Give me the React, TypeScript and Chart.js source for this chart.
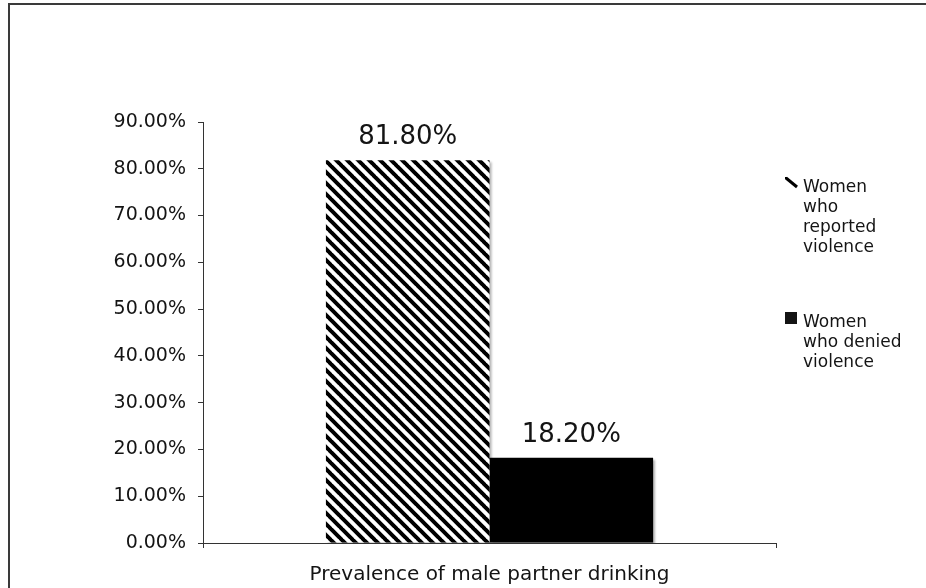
import React, { useEffect, useRef } from "react";
import { Chart, registerables } from "chart.js";

Chart.register(...registerables);

// Chart data
const CATEGORIES = ["Prevalence of male partner drinking"];
const REPORTED_VIOLENCE = [81.8];
const DENIED_VIOLENCE = [18.2];
const Y_MIN = 0;
const Y_MAX = 90;
const Y_STEP = 10;
const LEGEND_REPORTED = ["Women", "who", "reported", "violence"];
const LEGEND_DENIED = ["Women", "who denied", "violence"];

const FONT = "'DejaVu Sans', Verdana, sans-serif";
const TEXT = "#141414";
const AXIS = "#333333";

function makeHatch(ctx: CanvasRenderingContext2D): CanvasPattern | string {
  const p = 11;
  const c = document.createElement("canvas");
  c.width = p;
  c.height = p;
  const g = c.getContext("2d");
  if (!g) return "#000";
  g.fillStyle = "#ffffff";
  g.fillRect(0, 0, p, p);
  g.strokeStyle = "#000000";
  g.lineWidth = 4;
  g.beginPath();
  for (let k = -1; k <= 1; k++) {
    g.moveTo(k * p - 1, -1);
    g.lineTo(k * p + p + 1, p + 1);
  }
  g.stroke();
  return ctx.createPattern(c, "repeat") || "#000";
}

export default function App() {
  const ref = useRef<HTMLCanvasElement | null>(null);

  useEffect(() => {
    const canvas = ref.current;
    if (!canvas) return;
    const ctx = canvas.getContext("2d");
    if (!ctx) return;
    const hatch = makeHatch(ctx);

    const barShadow = {
      id: "barShadow",
      beforeDatasetsDraw(chart: any) {
        const c = chart.ctx;
        c.save();
        c.shadowColor = "rgba(0,0,0,0.3)";
        c.shadowOffsetX = 2;
        c.shadowOffsetY = 2;
        c.shadowBlur = 2;
      },
      afterDatasetsDraw(chart: any) {
        chart.ctx.restore();
      },
    };

    const valueLabels = {
      id: "valueLabels",
      afterDraw(chart: any) {
        const c = chart.ctx;
        c.save();
        c.font = `26px ${FONT}`;
        c.fillStyle = TEXT;
        c.textAlign = "center";
        c.textBaseline = "alphabetic";
        chart.data.datasets.forEach((ds: any, i: number) => {
          const meta = chart.getDatasetMeta(i);
          meta.data.forEach((bar: any, j: number) => {
            const v = ds.data[j] as number;
            c.fillText(v.toFixed(2) + "%", bar.x, bar.y - 16);
          });
        });
        c.restore();
      },
    };

    // Legend drawn at the right with wrapped labels
    const sideLegend = {
      id: "sideLegend",
      afterDraw(chart: any) {
        const c = chart.ctx;
        c.save();
        c.font = `17px ${FONT}`;
        c.fillStyle = TEXT;
        c.textAlign = "left";
        c.textBaseline = "alphabetic";

        // hatched swatch: a single diagonal stroke
        const t1 = 177;
        c.save();
        c.strokeStyle = "#000";
        c.lineWidth = 3;
        c.beginPath();
        c.moveTo(786, t1 + 1);
        c.lineTo(797, t1 + 10);
        c.stroke();
        c.fillStyle = "#000";
        c.fillRect(785, t1, 2, 2);
        c.restore();
        LEGEND_REPORTED.forEach((line, k) => {
          c.fillText(line, 803, t1 + 15 + k * 20);
        });

        // solid swatch
        const t2 = 312;
        c.fillRect(785, t2, 12, 12);
        LEGEND_DENIED.forEach((line, k) => {
          c.fillText(line, 803, t2 + 15 + k * 20);
        });
        c.restore();
      },
    };

    const chart = new Chart(ctx, {
      type: "bar",
      data: {
        labels: CATEGORIES,
        datasets: [
          {
            label: LEGEND_REPORTED.join(" "),
            data: REPORTED_VIOLENCE,
            backgroundColor: hatch as any,
            borderWidth: 0,
          },
          {
            label: LEGEND_DENIED.join(" "),
            data: DENIED_VIOLENCE,
            backgroundColor: "#000000",
            borderWidth: 0,
          },
        ],
      },
      options: {
        animation: false,
        responsive: false,
        maintainAspectRatio: false,
        devicePixelRatio: 1,
        layout: { padding: { left: 0, right: 150, top: 122, bottom: 0 } },
        datasets: {
          bar: { categoryPercentage: 0.571, barPercentage: 1.0 },
        },
        plugins: {
          legend: { display: false },
          tooltip: { enabled: false },
          title: { display: false },
        },
        scales: {
          x: {
            type: "category",
            offset: true,
            grid: {
              offset: true,
              drawOnChartArea: false,
              drawTicks: true,
              tickLength: 5,
              color: AXIS,
              lineWidth: 1,
            },
            border: { display: true, color: AXIS, width: 1 },
            ticks: {
              color: TEXT,
              font: { family: FONT, size: 20 },
              padding: 15,
              maxRotation: 0,
            },
            afterFit(scale: any) {
              scale.height = 45;
            },
          },
          y: {
            min: Y_MIN,
            max: Y_MAX,
            grid: {
              drawOnChartArea: false,
              drawTicks: true,
              tickLength: 5,
              color: AXIS,
              lineWidth: 1,
            },
            border: { display: true, color: AXIS, width: 1 },
            ticks: {
              stepSize: Y_STEP,
              color: TEXT,
              font: { family: FONT, size: 19 },
              padding: 12,
              callback: (v: any) => Number(v).toFixed(2) + "%",
            },
            afterFit(scale: any) {
              scale.width = 203;
            },
          },
        },
      },
      plugins: [barShadow, valueLabels, sideLegend],
    });

    return () => chart.destroy();
  }, []);

  return (
    <div
      style={{
        position: "absolute",
        left: 0,
        top: 0,
        width: 926,
        height: 588,
        overflow: "hidden",
        background: "#ffffff",
      }}
    >
      <div
        style={{
          position: "absolute",
          left: 8,
          top: 3,
          width: 1000,
          height: 1000,
          border: "2px solid #3a3a3a",
        }}
      />
      <canvas
        ref={ref}
        width={926}
        height={588}
        style={{ position: "absolute", left: 0, top: 0, width: 926, height: 588 }}
      />
    </div>
  );
}
